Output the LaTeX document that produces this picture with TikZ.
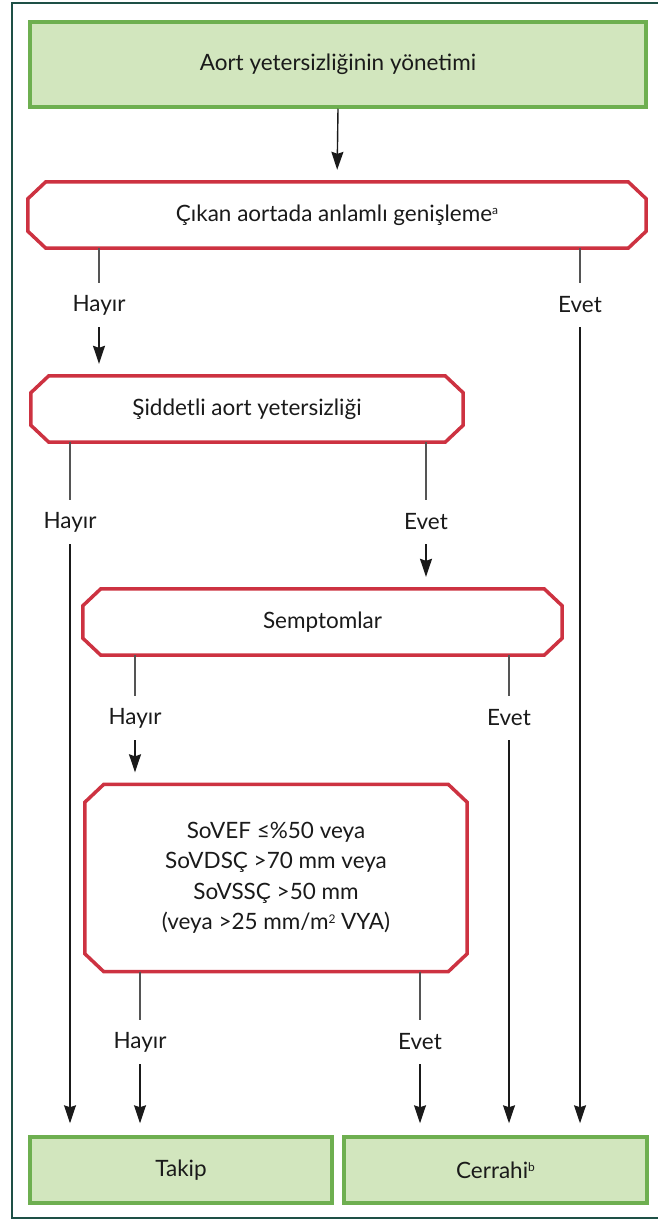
\documentclass[tikz,border=0pt]{standalone}
\usepackage{fontspec}
\setmainfont{Lato}
\usetikzlibrary{arrows.meta}
\definecolor{gfill}{HTML}{D2E6BE}
\definecolor{gline}{HTML}{6EAF50}
\definecolor{rline}{HTML}{CD3241}
\definecolor{frame}{HTML}{1E5046}
\definecolor{txt}{HTML}{1A1A1A}
\definecolor{conn}{HTML}{555555}
\newcommand\supr[1]{\raisebox{0.55ex}{\fontsize{12}{12}\selectfont #1}}
\newcommand\chamfbox[3]{\draw[line width=3.5pt,rline,line join=miter]
  ([xshift=#2]#1.north west) -- ([xshift=-#2]#1.north east) -- ([yshift=-#3]#1.north east)
  -- ([yshift=#3]#1.south east) -- ([xshift=-#2]#1.south east) -- ([xshift=#2]#1.south west)
  -- ([yshift=#3]#1.south west) -- ([yshift=-#3]#1.north west) -- cycle;}
\tikzset{
  greenbox/.style={draw=gline,fill=gfill,line width=3.5pt,inner sep=0pt,text=txt,font=\fontsize{22.5}{26}\selectfont},
  decbox/.style={inner sep=0pt,text=txt,font=\fontsize{22.5}{26}\selectfont,align=center},
  lbl/.style={inner sep=0pt,minimum height=44pt,text=txt,font=\fontsize{22.5}{26}\selectfont},
  plainline/.style={draw=conn,line width=1.4pt},
  arrline/.style={draw=txt,line width=1.4pt,-{Stealth[length=18pt,width=12pt,inset=2pt]},shorten >=12pt},
}
\begin{document}
\begin{tikzpicture}[x=1pt,y=-1pt]
\useasboundingbox (0,0) rectangle (658,1220);
\draw[frame,line width=2pt] (660,3) -- (12,3) -- (12,1218) -- (660,1218);

\node[greenbox,minimum width=616pt,minimum height=85pt] (top) at (338,64.5) {Aort yetersizliğinin yönetimi};
\node[decbox,minimum width=618pt,minimum height=66pt] (b1) at (337,215) {Çıkan aortada anlamlı genişleme\supr{a}};
\chamfbox{b1}{18pt}{17pt}
\node[decbox,minimum width=432pt,minimum height=66pt] (b2) at (247,409) {Şiddetli aort yetersizliği};
\chamfbox{b2}{18pt}{17pt}
\node[decbox,minimum width=479pt,minimum height=66pt] (b3) at (322.5,622) {Semptomlar};
\chamfbox{b3}{18pt}{17pt}
\node[decbox,minimum width=382pt,minimum height=187pt,font=\fontsize{22.5}{30.5}\selectfont] (b4) at (276,878)
  {SoVEF ≤\%50 veya\\SoVDSÇ >70 mm veya\\SoVSSÇ >50 mm\\(veya >25 mm/m\supr{2} VYA)};
\chamfbox{b4}{19pt}{18pt}
\node[greenbox,minimum width=302pt,minimum height=66pt] (takip) at (181,1170) {Takip};
\node[greenbox,minimum width=303pt,minimum height=66pt] (cer) at (495.5,1170) {Cerrahi\supr{b}};

\node[lbl] (h1) at (99,305) {Hayır};
\node[lbl] (e1) at (580,305) {Evet};
\node[lbl] (h2) at (70,522) {Hayır};
\node[lbl] (e2) at (426,522) {Evet};
\node[lbl] (h3) at (135,718) {Hayır};
\node[lbl] (e3) at (509,718) {Evet};
\node[lbl] (h4) at (140,1042) {Hayır};
\node[lbl] (e4) at (420,1042) {Evet};

\draw[arrline] (top.south) -- (b1.north);

\draw[plainline] (b1.south -| h1) -- (h1.north);
\draw[arrline] (h1.south) -- (h1 |- b2.north);
\draw[plainline] (b1.south -| e1) -- (e1.north);
\draw[arrline] (e1.south) -- (e1 |- cer.north);

\draw[plainline] (b2.south -| h2) -- (h2.north);
\draw[arrline] (h2.south) -- (h2 |- takip.north);
\draw[plainline] (b2.south -| e2) -- (e2.north);
\draw[arrline] (e2.south) -- (e2 |- b3.north);

\draw[plainline] (b3.south -| h3) -- (h3.north);
\draw[arrline] (h3.south) -- (h3 |- b4.north);
\draw[plainline] (b3.south -| e3) -- (e3.north);
\draw[arrline] (e3.south) -- (e3 |- cer.north);

\draw[plainline] (b4.south -| h4) -- (h4.north);
\draw[arrline] (h4.south) -- (h4 |- takip.north);
\draw[plainline] (b4.south -| e4) -- (e4.north);
\draw[arrline] (e4.south) -- (e4 |- cer.north);
\end{tikzpicture}
\end{document}
